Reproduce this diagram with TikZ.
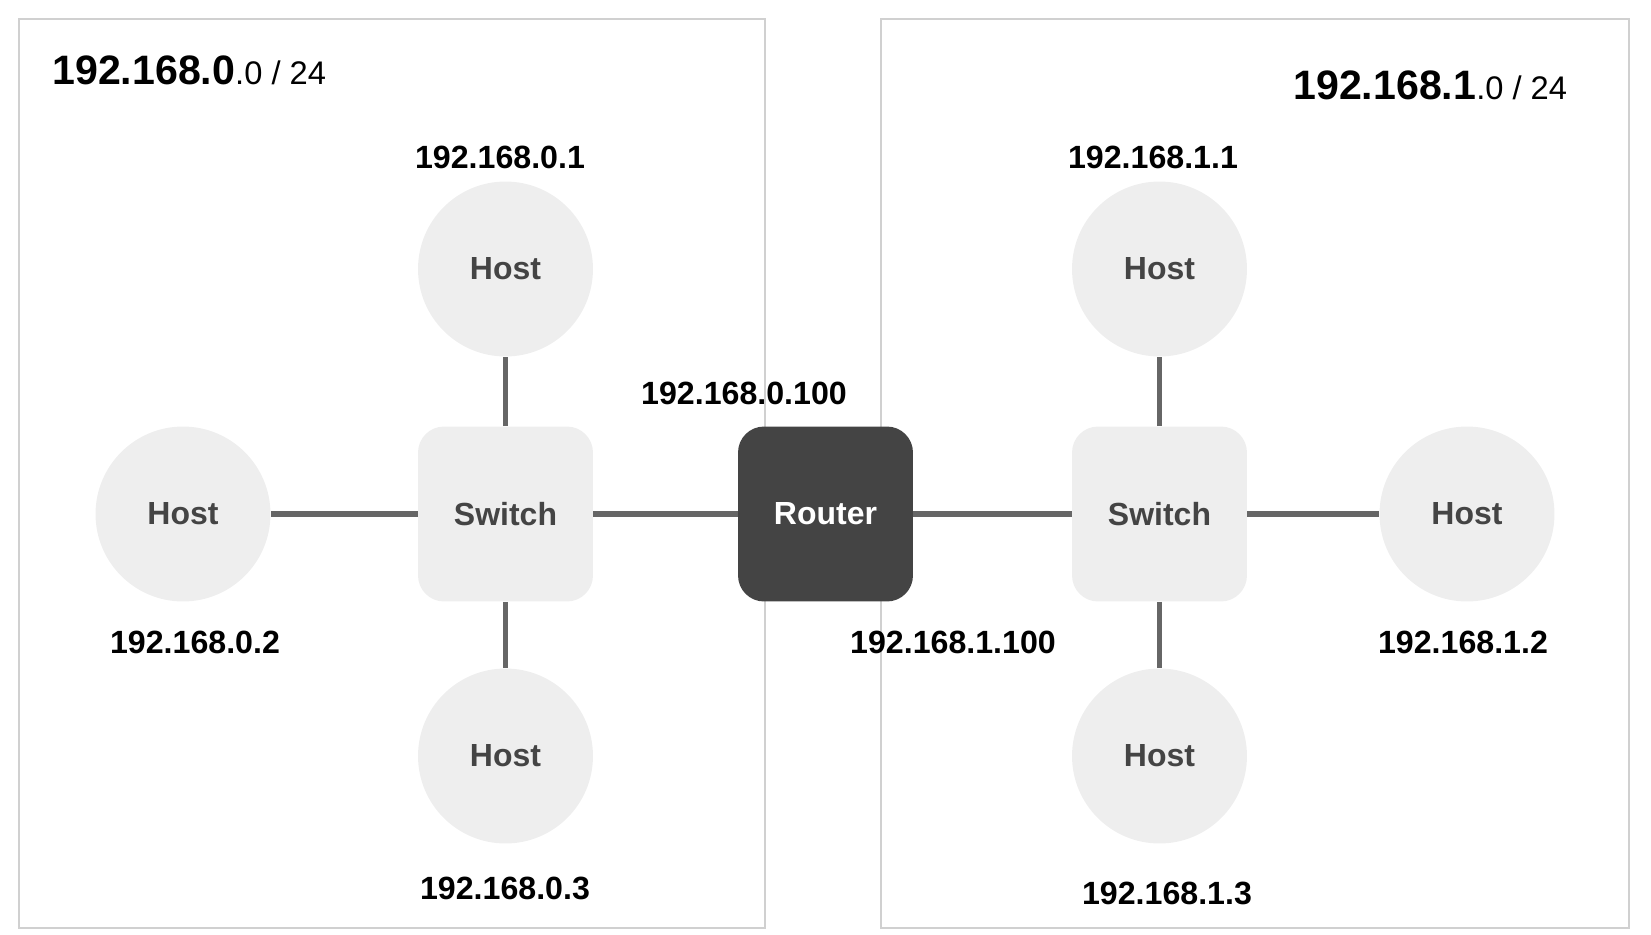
\documentclass[tikz,border=0pt]{standalone}
\usepackage{fontspec}
\setmainfont{Liberation Sans}
\usetikzlibrary{calc}
\definecolor{hostgray}{HTML}{EEEEEE}
\definecolor{routergray}{HTML}{444444}
\definecolor{linkgray}{HTML}{666666}
\definecolor{framegray}{HTML}{D0D0D0}
\definecolor{textgray}{HTML}{444444}

\begin{document}
\begin{tikzpicture}[x=0.02cm,y=-0.02cm,
    host/.style={circle, fill=hostgray, minimum size=3.5cm, inner sep=0pt,
      text=textgray, font=\bfseries\fontsize{18.2}{22}\selectfont},
    switchbox/.style={rectangle, rounded corners=0.52cm, fill=hostgray,
      minimum size=3.5cm, inner sep=0pt, text=textgray,
      font=\bfseries\fontsize{18.2}{22}\selectfont},
    routerbox/.style={switchbox, fill=routergray, text=white},
    addr/.style={inner sep=0pt, font=\bfseries\fontsize{18.3}{22}\selectfont},
    link/.style={draw=linkgray, line width=3.4pt},
    net/.style={draw=framegray, line width=1pt}]
        %
        \def\midY{514}
        \useasboundingbox (0,0) rectangle (1651,934);

        % the two networks
        \draw[net] (19,19) rectangle (765,928);
        \draw[net] (881,19) rectangle (1629,928);

        \node[anchor=base west, inner sep=0pt] (netA) at (52,84)
          {\fontsize{23.4}{28}\selectfont\bfseries 192.168.0\mdseries\fontsize{18.6}{22}\selectfont .0 / 24};
        \node[anchor=base west, inner sep=0pt] (netB) at (1293,99)
          {\fontsize{23.4}{28}\selectfont\bfseries 192.168.1\mdseries\fontsize{18.6}{22}\selectfont .0 / 24};

        % devices
        \node[switchbox] (swA) at (505.5,\midY) {Switch};
        \node[routerbox] (router) at (825.5,\midY) {Router};
        \node[switchbox] (swB) at (1159.5,\midY) {Switch};

        \node[host] (hA1) at (505.5,269) {Host};
        \node[host] (hA2) at (183,\midY) {Host};
        \node[host] (hA3) at (505.5,756) {Host};
        \node[host] (hB1) at (1159.5,269) {Host};
        \node[host] (hB2) at (1467,\midY) {Host};
        \node[host] (hB3) at (1159.5,756) {Host};

        % links
        \draw[link] (swA) -- (hA1);
        \draw[link] (swA) -- (hA2);
        \draw[link] (swA) -- (hA3);
        \draw[link] (swA) -- (router);
        \draw[link] (router) -- (swB);
        \draw[link] (swB) -- (hB1);
        \draw[link] (swB) -- (hB2);
        \draw[link] (swB) -- (hB3);

        % addresses
        \node[addr] (ipA1) at (500,157) {192.168.0.1};
        \node[addr] (ipA2) at (195,642) {192.168.0.2};
        \node[addr] (ipA3) at (505,888) {192.168.0.3};
        \node[addr] (ipRA) at (744,393) {192.168.0.100};
        \node[addr] (ipRB) at (953,642) {192.168.1.100};
        \node[addr] (ipB1) at (1153,157) {192.168.1.1};
        \node[addr] (ipB2) at (1463,642) {192.168.1.2};
        \node[addr] (ipB3) at (1167,893) {192.168.1.3};
    \end{tikzpicture}
\end{document}
